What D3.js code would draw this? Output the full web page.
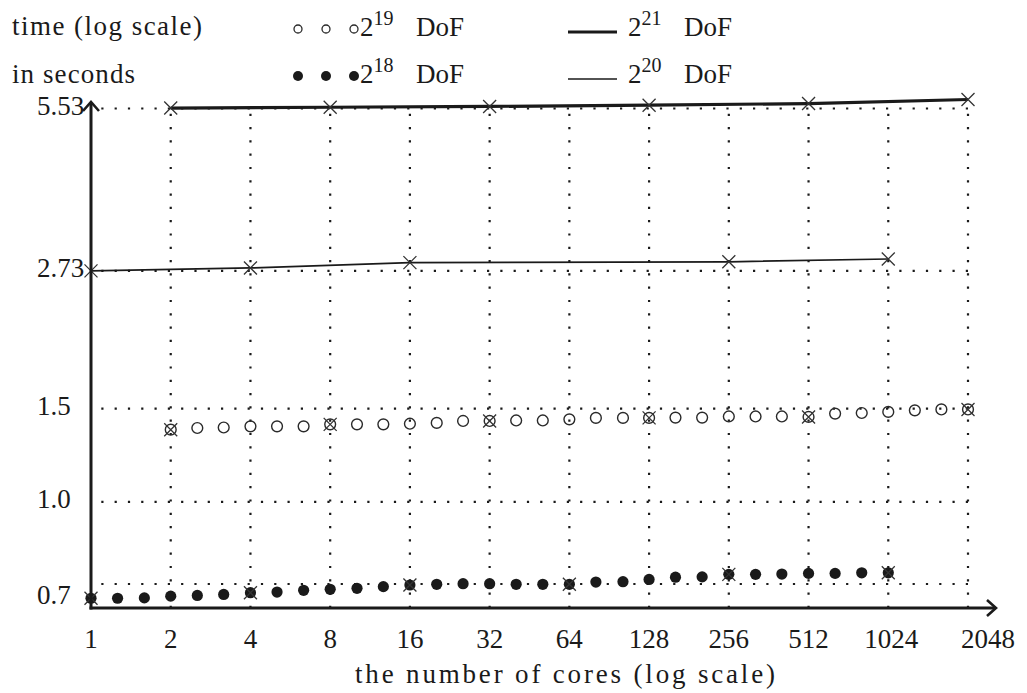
<!DOCTYPE html>
<html>
<head>
<meta charset="utf-8">
<script src="https://cdn.jsdelivr.net/npm/d3@7"></script>
<style>
body { margin: 0; background: #fff; }
svg text { font-family: 'Liberation Serif', 'Times New Roman', Times, 'DejaVu Serif', serif; fill: #1a1a1a; }
</style>
</head>
<body>
<div id="chart"></div>
<script>
// axis ticks
var xTicks = [1, 2, 4, 8, 16, 32, 64, 128, 256, 512, 1024, 2048];
var yTicks = [0.7, 1.0, 1.5, 2.73, 5.53];
var yTickLabels = ["0.7", "1.0", "1.5", "2.73", "5.53"];

// 2^18 DoF (filled dots)
var cores18 = [1, 1.26, 1.59, 2, 2.52, 3.17, 4, 5.04, 6.35, 8, 10.1, 12.7, 16, 20.2, 25.4, 32,
               40.3, 50.8, 64, 80.6, 102, 128, 161, 203, 256, 323, 406, 512, 645, 813, 1024];
var time18 = [0.658, 0.658, 0.659, 0.664, 0.666, 0.669, 0.674, 0.676, 0.681, 0.684, 0.687,
              0.692, 0.697, 0.699, 0.701, 0.701, 0.699, 0.699, 0.699, 0.706, 0.707, 0.714,
              0.721, 0.722, 0.730, 0.730, 0.731, 0.733, 0.733, 0.735, 0.735];
var cross18 = [1, 4, 16, 64, 256, 1024];

// 2^19 DoF (open circles)
var cores19 = [2, 2.52, 3.17, 4, 5.04, 6.35, 8, 10.1, 12.7, 16, 20.2, 25.4, 32, 40.3, 50.8, 64,
               80.6, 102, 128, 161, 203, 256, 323, 406, 512, 645, 813, 1024, 1290, 1625, 2048];
var time19 = [1.369, 1.379, 1.382, 1.389, 1.389, 1.389, 1.401, 1.401, 1.401, 1.405, 1.41,
              1.422, 1.422, 1.425, 1.425, 1.432, 1.441, 1.441, 1.441, 1.443, 1.443, 1.45,
              1.45, 1.45, 1.447, 1.468, 1.472, 1.479, 1.489, 1.495, 1.495];
var cross19 = [2, 8, 32, 128, 512, 2048];

// 2^20 DoF (thin line)
var cores20 = [1, 4, 16, 256, 1024];
var time20 = [2.73, 2.765, 2.83, 2.84, 2.875];

// 2^21 DoF (thick line)
var cores21 = [2, 8, 32, 128, 512, 2048];
var time21 = [5.54, 5.56, 5.58, 5.61, 5.65, 5.75];

var width = 1027;
var height = 693;
var axisLeft = 91;
var axisBottom = 608;
var axisTop = 102;
var axisRight = 996;
var ink = "#1a1a1a";
var serif = "'Liberation Serif', 'Times New Roman', Times, 'DejaVu Serif', serif";
var svg, g, x, y;

renderSVG();

function renderSVG(){
    svg = d3.select("#chart")
        .append("svg")
        .attr("width", width)
        .attr("height", height)
        .attr("font-family", serif);

    x = d3.scaleLog().base(2)
        .domain([1, 2048])
        .range([axisLeft, 968]);
    y = d3.scaleLog()
        .domain([0.7, 5.53])
        .range([584, 108.5]);

    g = svg.append("g");

    drawGrid();
    drawSeries();
    drawAxes();
    drawLegend();
}

function drawGrid(){
    // vertical dotted lines
    g.selectAll(".vgrid")
        .data(xTicks.slice(1))
        .enter()
        .append("line")
        .attr("class", "vgrid")
        .attr("x1", function(d){ return x(d); })
        .attr("x2", function(d){ return x(d); })
        .attr("y1", axisBottom)
        .attr("y2", y(5.53))
        .attr("stroke", ink)
        .attr("stroke-width", 2.2)
        .attr("stroke-dasharray", "2.2,11.1");

    // horizontal dotted lines
    g.selectAll(".hgrid")
        .data(yTicks)
        .enter()
        .append("line")
        .attr("class", "hgrid")
        .attr("x1", 968)
        .attr("x2", axisLeft)
        .attr("y1", function(d){ return y(d); })
        .attr("y2", function(d){ return y(d); })
        .attr("stroke", ink)
        .attr("stroke-width", 2.2)
        .attr("stroke-dasharray", "2.2,11.1");
}

function zip(cores, times){
    return cores.map(function(c, i){ return {c: c, t: times[i]}; });
}

function crossPath(px, py, s){
    return "M" + (px - s) + "," + (py - s) + "L" + (px + s) + "," + (py + s) +
           "M" + (px - s) + "," + (py + s) + "L" + (px + s) + "," + (py - s);
}

function drawSeries(){
    var line = d3.line()
        .x(function(d){ return x(d.c); })
        .y(function(d){ return y(d.t); });

    var d20 = zip(cores20, time20);
    var d21 = zip(cores21, time21);
    var d18 = zip(cores18, time18);
    var d19 = zip(cores19, time19);

    g.append("path")
        .datum(d20)
        .attr("d", line)
        .attr("fill", "none")
        .attr("stroke", ink)
        .attr("stroke-width", 1.7);

    g.append("path")
        .datum(d21)
        .attr("d", line)
        .attr("fill", "none")
        .attr("stroke", ink)
        .attr("stroke-width", 3.2);

    g.selectAll(".open")
        .data(d19)
        .enter()
        .append("circle")
        .attr("class", "open")
        .attr("cx", function(d){ return x(d.c); })
        .attr("cy", function(d){ return y(d.t); })
        .attr("r", 5.4)
        .attr("fill", "none")
        .attr("stroke", "#2a2a2a")
        .attr("stroke-width", 1.4);

    g.selectAll(".filled")
        .data(d18)
        .enter()
        .append("circle")
        .attr("class", "filled")
        .attr("cx", function(d){ return x(d.c); })
        .attr("cy", function(d){ return y(d.t); })
        .attr("r", 5.6)
        .attr("fill", ink);

    // cross markers
    var crosses = d20.concat(d21)
        .concat(d18.filter(function(d){ return cross18.indexOf(d.c) >= 0; }))
        .concat(d19.filter(function(d){ return cross19.indexOf(d.c) >= 0; }));

    g.selectAll(".cross")
        .data(crosses)
        .enter()
        .append("path")
        .attr("class", "cross")
        .attr("d", function(d){ return crossPath(x(d.c), y(d.t), 6.5); })
        .attr("fill", "none")
        .attr("stroke", "#333")
        .attr("stroke-width", 1.3);
}

function drawAxes(){
    // y axis with arrow
    g.append("path")
        .attr("d", "M" + axisLeft + "," + (axisBottom + 1.5) + "L" + axisLeft + "," + (axisTop + 1))
        .attr("stroke", ink)
        .attr("stroke-width", 3)
        .attr("fill", "none");
    g.append("path")
        .attr("d", "M" + (axisLeft - 8) + "," + (axisTop + 9) + "L" + axisLeft + "," + axisTop +
                   "L" + (axisLeft + 8) + "," + (axisTop + 9))
        .attr("stroke", ink)
        .attr("stroke-width", 2.6)
        .attr("fill", "none");

    // x axis with arrow
    g.append("path")
        .attr("d", "M" + (axisLeft - 1.5) + "," + axisBottom + "L" + (axisRight - 1) + "," + axisBottom)
        .attr("stroke", ink)
        .attr("stroke-width", 3)
        .attr("fill", "none");
    g.append("path")
        .attr("d", "M" + (axisRight - 9) + "," + (axisBottom - 8) + "L" + axisRight + "," + axisBottom +
                   "L" + (axisRight - 9) + "," + (axisBottom + 8))
        .attr("stroke", ink)
        .attr("stroke-width", 2.6)
        .attr("fill", "none");

    // y tick labels (0.7 sits beside the first data point, as in the original)
    svg.selectAll(".ylab")
        .data(yTicks)
        .enter()
        .append("text")
        .attr("class", "ylab")
        .attr("x", 37)
        .attr("y", function(d){ return (d === 0.7 ? y(time18[0]) : y(d)) + 6; })
        .attr("font-size", 27)
        .text(function(d, i){ return yTickLabels[i]; });

    // x tick labels
    svg.selectAll(".xlab")
        .data(xTicks)
        .enter()
        .append("text")
        .attr("class", "xlab")
        .attr("x", function(d){ return x(d) + (d === 2048 ? 20 : (d === 1024 ? 3 : 0)); })
        .attr("y", 648)
        .attr("text-anchor", "middle")
        .attr("font-size", 27)
        .text(function(d){ return d; });

    svg.append("text")
        .attr("x", 355)
        .attr("y", 683)
        .attr("font-size", 27)
        .attr("textLength", 420)
        .attr("lengthAdjust", "spacing")
        .text("the number of cores (log scale)");

    svg.append("text")
        .attr("x", 12)
        .attr("y", 35)
        .attr("font-size", 27)
        .attr("textLength", 190)
        .attr("lengthAdjust", "spacing")
        .text("time (log scale)");

    svg.append("text")
        .attr("x", 12)
        .attr("y", 83)
        .attr("font-size", 27)
        .attr("textLength", 123)
        .attr("lengthAdjust", "spacing")
        .text("in seconds");
}

function legendLabel(px, py, exp){
    var t = svg.append("text")
        .attr("x", px)
        .attr("y", py)
        .attr("font-size", 27);
    t.append("tspan").text("2");
    t.append("tspan")
        .attr("font-size", 20)
        .attr("dy", -11)
        .text(exp);
    svg.append("text")
        .attr("x", px + 56)
        .attr("y", py)
        .attr("font-size", 27)
        .text("DoF");
}

function drawLegend(){
    var lx = [298, 326, 354];

    svg.selectAll(".lopen")
        .data(lx)
        .enter()
        .append("circle")
        .attr("cx", function(d){ return d; })
        .attr("cy", 29)
        .attr("r", 4)
        .attr("fill", "none")
        .attr("stroke", "#2a2a2a")
        .attr("stroke-width", 1.3);
    legendLabel(360, 36, "19");

    svg.selectAll(".lfill")
        .data(lx)
        .enter()
        .append("circle")
        .attr("cx", function(d){ return d; })
        .attr("cy", 76)
        .attr("r", 5)
        .attr("fill", ink);
    legendLabel(360, 83, "18");

    svg.append("line")
        .attr("x1", 568).attr("x2", 617)
        .attr("y1", 32).attr("y2", 32)
        .attr("stroke", ink)
        .attr("stroke-width", 3.2);
    legendLabel(628, 36, "21");

    svg.append("line")
        .attr("x1", 568).attr("x2", 617)
        .attr("y1", 79).attr("y2", 79)
        .attr("stroke", ink)
        .attr("stroke-width", 1.7);
    legendLabel(628, 83, "20");
}
</script>
</body>
</html>
